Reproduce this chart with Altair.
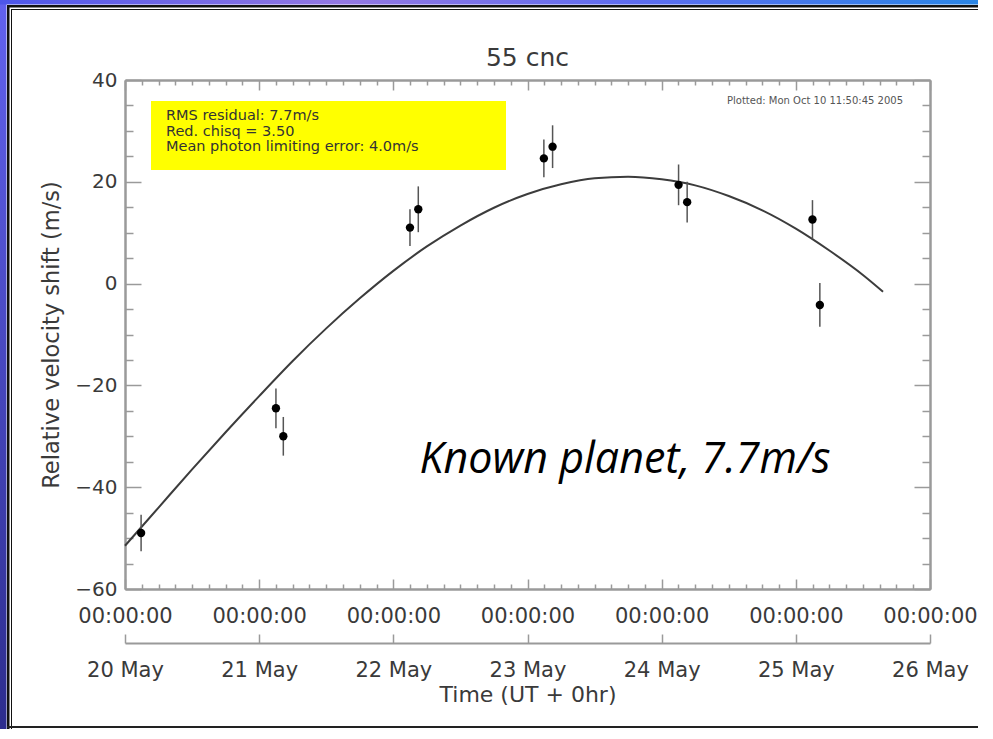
import json
import altair as alt
import pandas as pd

# Radial-velocity observations of 55 Cnc (days after 2005-05-20 00:00 UT)
obs_day = [0.12, 1.125, 1.18, 2.124, 2.186, 3.122, 3.187, 4.126, 4.19, 5.124, 5.179]
obs_rv = [-49.0, -24.5, -30.0, 11.0, 14.6, 24.6, 26.9, 19.4, 16.0, 12.6, -4.2]
obs_err = [3.6, 3.9, 3.8, 3.6, 4.5, 3.7, 4.2, 4.0, 4.0, 3.8, 4.3]

# Orbit of the known planet, sampled along the plotted curve
fit_day = [0.0, 0.25, 0.5, 0.75, 1.0, 1.25, 1.5, 1.75, 2.0, 2.25, 2.5, 2.75,
           3.0, 3.25, 3.5, 3.75, 4.0, 4.25, 4.5, 4.75, 5.0, 5.25, 5.5, 5.65]
fit_rv = [-51.5, -44.0, -36.5, -29.2, -22.1, -15.2, -8.8, -2.9, 2.5, 7.3, 11.4, 14.9,
          17.6, 19.5, 20.7, 21.0, 20.5, 19.3, 17.2, 14.4, 10.8, 6.5, 1.7, -1.6]

day_ticks = [0, 1, 2, 3, 4, 5, 6]
day_labels = ["20 May", "21 May", "22 May", "23 May", "24 May", "25 May", "26 May"]
time_label = "00:00:00"
minor_day_ticks = [d + h / 24 for d in range(6) for h in (3, 6, 9, 12, 15, 18, 21)]
rv_ticks = [-60, -40, -20, 0, 20, 40]
minor_rv_ticks = [v for v in range(-55, 40, 5) if v % 20 != 0]

chart_title = "55 cnc"
stats_lines = ["RMS residual: 7.7m/s", "Red. chisq = 3.50",
               "Mean photon limiting error: 4.0m/s"]
plotted_stamp = "Plotted: Mon Oct 10 11:50:45 2005"
note_text = "Known planet, 7.7m/s"

W, H = 805, 509
FONT = "DejaVu Sans"
AX_COL = "#9a9a9a"
TXT_COL = "#3a3a3a"

obs = pd.DataFrame({"day": obs_day, "rv": obs_rv, "err": obs_err})
obs["lo"] = obs["rv"] - obs["err"]
obs["hi"] = obs["rv"] + obs["err"]
fit = pd.DataFrame({"day": fit_day, "rv": fit_rv})
one = pd.DataFrame({"k": [0]})

xs = alt.Scale(domain=[0, 6], nice=False, zero=False)
ys = alt.Scale(domain=[-60, 40], nice=False, zero=False)

base_axis = dict(grid=False, labelFont=FONT, titleFont=FONT, labelColor=TXT_COL,
                 titleColor=TXT_COL, domainColor=AX_COL, tickColor=AX_COL,
                 domainWidth=2, tickWidth=1.5, labelFlush=False, labelOverlap=False,
                 labelBound=False, titleFontWeight="normal")


def ax(**kw):
    d = dict(base_axis)
    d.update(kw)
    return alt.Axis(**d)


def tick_axis(orient, offset, values, size):
    return ax(orient=orient, offset=offset, values=values, tickSize=size,
              labels=False, title=None, domain=True)


label_lookup = json.dumps(day_labels)


# decorative slide frame
def band(x, x2, y, y2, color):
    return alt.Chart(one).mark_rect(color=color).encode(
        x=alt.value(x), x2=alt.value(x2), y=alt.value(y), y2=alt.value(y2))


top_grad = alt.Gradient(gradient="linear", x1=0, x2=1, y1=0, y2=0, stops=[
    alt.GradientStop(color="#4c56ea", offset=0),
    alt.GradientStop(color="#9478e2", offset=0.35),
    alt.GradientStop(color="#5d6cf0", offset=0.65),
    alt.GradientStop(color="#2a86e6", offset=1)])
left_grad = alt.Gradient(gradient="linear", x1=0, x2=0, y1=0, y2=1, stops=[
    alt.GradientStop(color="#6262f0", offset=0),
    alt.GradientStop(color="#2c2c8c", offset=1)])

RIGHT = 853
frame = [
    band(-125, -118.5, -80, 660, left_grad),
    band(-125, RIGHT, -80, -75.5, top_grad),
    band(-118, -115.5, -75, 660, "#111111"),
    band(-118, RIGHT, -75, -72.5, "#111111"),
    band(-114, -113, -71, 660, "#111111"),
    band(-114, RIGHT, -71, -70, "#111111"),
    band(-118, RIGHT, 646, 648, "#222222"),
]

# fitted orbit
curve = alt.Chart(fit).mark_line(color="#3c3c3c", strokeWidth=2, interpolate="monotone").encode(
    x=alt.X("day:Q", scale=xs,
            axis=ax(orient="bottom", values=day_ticks, labelExpr=f"'{time_label}'",
                    domain=False, ticks=False, labelPadding=16, labelFontSize=21,
                    labelBaseline="top", title=None)),
    y=alt.Y("rv:Q", scale=ys,
            axis=ax(orient="left", values=rv_ticks, domain=False, ticks=False,
                    labelPadding=8, labelFontSize=20,
                    title="Relative velocity shift (m/s)", titleFontSize=22.5,
                    titlePadding=11)))

errbars = alt.Chart(obs).mark_rule(color="#555555", strokeWidth=1.5).encode(
    x=alt.X("day:Q", scale=xs, axis=tick_axis("top", -H, day_ticks, 10)),
    y=alt.Y("lo:Q", scale=ys, axis=tick_axis("right", -W, rv_ticks, 16)),
    y2="hi:Q")

points = alt.Chart(obs).mark_circle(color="black", opacity=1, size=70).encode(
    x=alt.X("day:Q", scale=xs, axis=tick_axis("bottom", -H, day_ticks, 10)),
    y=alt.Y("rv:Q", scale=ys, axis=tick_axis("left", -W, rv_ticks, 16)))

ghost = alt.Chart(obs).mark_point(opacity=0)

minor_a = ghost.encode(
    x=alt.X("day:Q", scale=xs, axis=tick_axis("top", -H, minor_day_ticks, 5)),
    y=alt.Y("rv:Q", scale=ys, axis=tick_axis("right", -W, minor_rv_ticks, 8)))
minor_b = ghost.encode(
    x=alt.X("day:Q", scale=xs, axis=tick_axis("bottom", -H, minor_day_ticks, 5)),
    y=alt.Y("rv:Q", scale=ys, axis=tick_axis("left", -W, minor_rv_ticks, 8)))

# second date axis below the time labels
date_line = ghost.encode(
    x=alt.X("day:Q", scale=xs, axis=tick_axis("top", -(H + 54), day_ticks, 9)),
    y=alt.Y("rv:Q", scale=ys, axis=None))
date_labels = ghost.encode(
    x=alt.X("day:Q", scale=xs,
            axis=ax(orient="bottom", offset=54, values=day_ticks,
                    labelExpr=f"{label_lookup}[round(datum.value)]", domain=False,
                    ticks=False, labelPadding=16, labelFontSize=21, labelBaseline="top",
                    title="Time (UT + 0hr)", titleFontSize=22, titlePadding=4)),
    y=alt.Y("rv:Q", scale=ys, axis=None))

# annotations
title_text = alt.Chart(one).mark_text(align="center", baseline="middle", font=FONT,
                                      fontSize=25, color=TXT_COL, text=chart_title).encode(
    x=alt.value(W / 2), y=alt.value(-22))
stats_box = band(26, 381, 21, 90, "#ffff00")
stats_text = alt.Chart(pd.DataFrame({"line": stats_lines, "i": [0, 1, 2]})).mark_text(
    align="left", baseline="middle", font=FONT, fontSize=14.5, color="#333333",
    x=41).encode(
    text="line:N",
    y=alt.Y("i:Q", scale=alt.Scale(domain=[0, 2], range=[36, 67]), axis=None))
stamp = alt.Chart(one).mark_text(align="right", baseline="middle", font=FONT,
                                 fontSize=10, color="#555555", text=plotted_stamp).encode(
    x=alt.value(778), y=alt.value(21))
note = alt.Chart(one).mark_text(align="center", baseline="middle", font="Open Sans",
                                fontSize=43, fontStyle="italic", color="black",
                                text=note_text).encode(
    x=alt.value(500), y=alt.value(380))

chart = alt.layer(
    *frame, stats_box, curve, errbars, points, minor_a, minor_b, date_line, date_labels,
    title_text, stats_text, stamp, note
).resolve_axis(x="independent", y="independent").resolve_scale(y="independent").properties(
    width=W, height=H,
    autosize=alt.AutoSizeParams(type="none"),
    padding={"left": 125, "top": 80, "right": 48, "bottom": 140},
    background="white",
).configure_view(stroke=None)

chart.save("out.html", embed_options={"renderer": "svg", "actions": False})
